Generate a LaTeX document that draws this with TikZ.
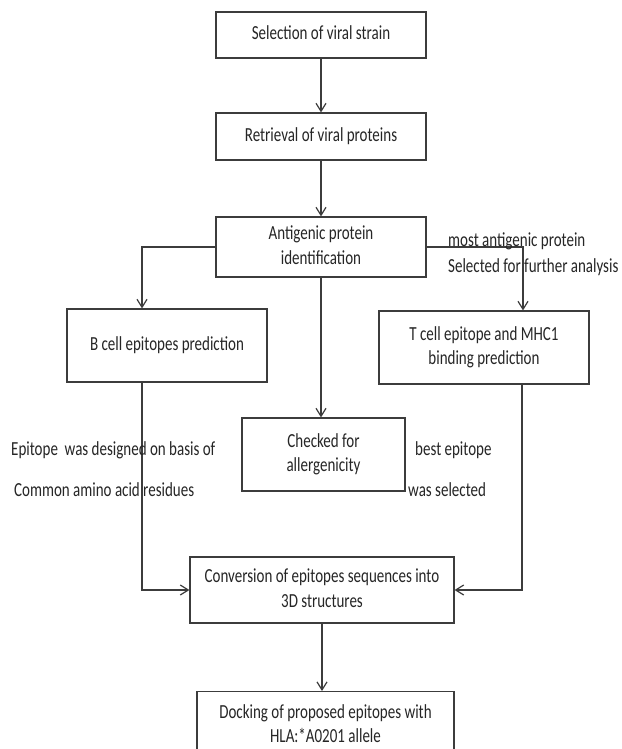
\documentclass[tikz,border=0pt]{standalone}
\usepackage{fontspec}
\setmainfont{Carlito}
\usepackage{graphicx}
\usetikzlibrary{arrows.meta}
\definecolor{ln}{HTML}{3C3C3C}
\definecolor{tx}{HTML}{262626}
\newcommand{\vst}[1]{\scalebox{1}[1.33]{\begin{tabular}{@{}c@{}}#1\end{tabular}}}
\begin{document}
\begin{tikzpicture}[x=1pt,y=-1pt,
  box/.style={draw=ln, line width=1.2pt, rectangle, inner sep=0pt, text=tx,
    font=\fontsize{15}{18.5}\selectfont},
  lbl/.style={inner sep=0pt, text=tx, anchor=west, font=\fontsize{15}{18.5}\selectfont},
  arr/.style={draw=ln, line width=1.2pt, -{Straight Barb[length=8pt,width=10pt,line width=1.2pt]}},
  con/.style={draw=ln, line width=1.2pt}]
\useasboundingbox (0,0) rectangle (621,749);
\fill[white] (0,0) rectangle (621,749);
\clip (0,0) rectangle (621,749);

\node[box, minimum width=210, minimum height=46] (b1) at (321,35) {\vst{Selection of viral strain}};
\node[box, minimum width=210, minimum height=47] (b2) at (321,136.5) {\vst{Retrieval of viral proteins}};
\node[box, minimum width=210, minimum height=60] (b3) at (321,247) {\vst{Antigenic protein\\ identification}};
\node[box, minimum width=200, minimum height=73] (bB) at (167,345.5) {\raisebox{8pt}{\vst{B cell epitopes prediction}}};
\node[box, minimum width=210, minimum height=73] (bT) at (484,347.5) {\vst{T cell epitope and MHC1\\ binding prediction}};
\node[box, minimum width=163, minimum height=73] (bC) at (323.5,454.5) {\vst{Checked for\\ allergenicity}};
\node[box, minimum width=264, minimum height=66] (bV) at (322,590) {\vst{Conversion of epitopes sequences into\\ 3D structures}};
\node[box, anchor=north, minimum width=257, minimum height=90] (bD) at (325.5,691) {};
\node[inner sep=0pt, text=tx, font=\fontsize{15}{18.5}\selectfont] (tD) at (325.5,725.5) {\vst{Docking of proposed epitopes with\\ HLA:*A0201 allele}};

\draw[arr] (b1.south) -- (b2.north);
\draw[arr] (b2.south) -- (b3.north);
\draw[arr] (b3.west) -| ([xshift=-25pt]bB.north);
\draw[arr] (b3.east) -| ([xshift=39pt]bT.north);
\draw[arr] (b3.south) -- (b3.south |- bC.north);
\draw[arr] ([xshift=-25pt]bB.south) |- (bV.west);
\draw[arr] ([xshift=38pt]bT.south) |- (bV.east);
\draw[arr] (bV.south) -- (bV.south |- bD.north);

\node[lbl] (l1) at (448,242) {\vst{most antigenic protein}};
\node[lbl] (l2) at (448,268) {\vst{Selected for further analysis}};
\node[lbl] (l3) at (11,451) {\vst{Epitope\ \ was designed on basis of}};
\node[lbl] (l4) at (14,492) {\vst{Common amino acid residues}};
\node[lbl] (l5) at (415,451) {\vst{best epitope}};
\node[lbl] (l6) at (408,492) {\vst{was selected}};
\end{tikzpicture}
\end{document}
